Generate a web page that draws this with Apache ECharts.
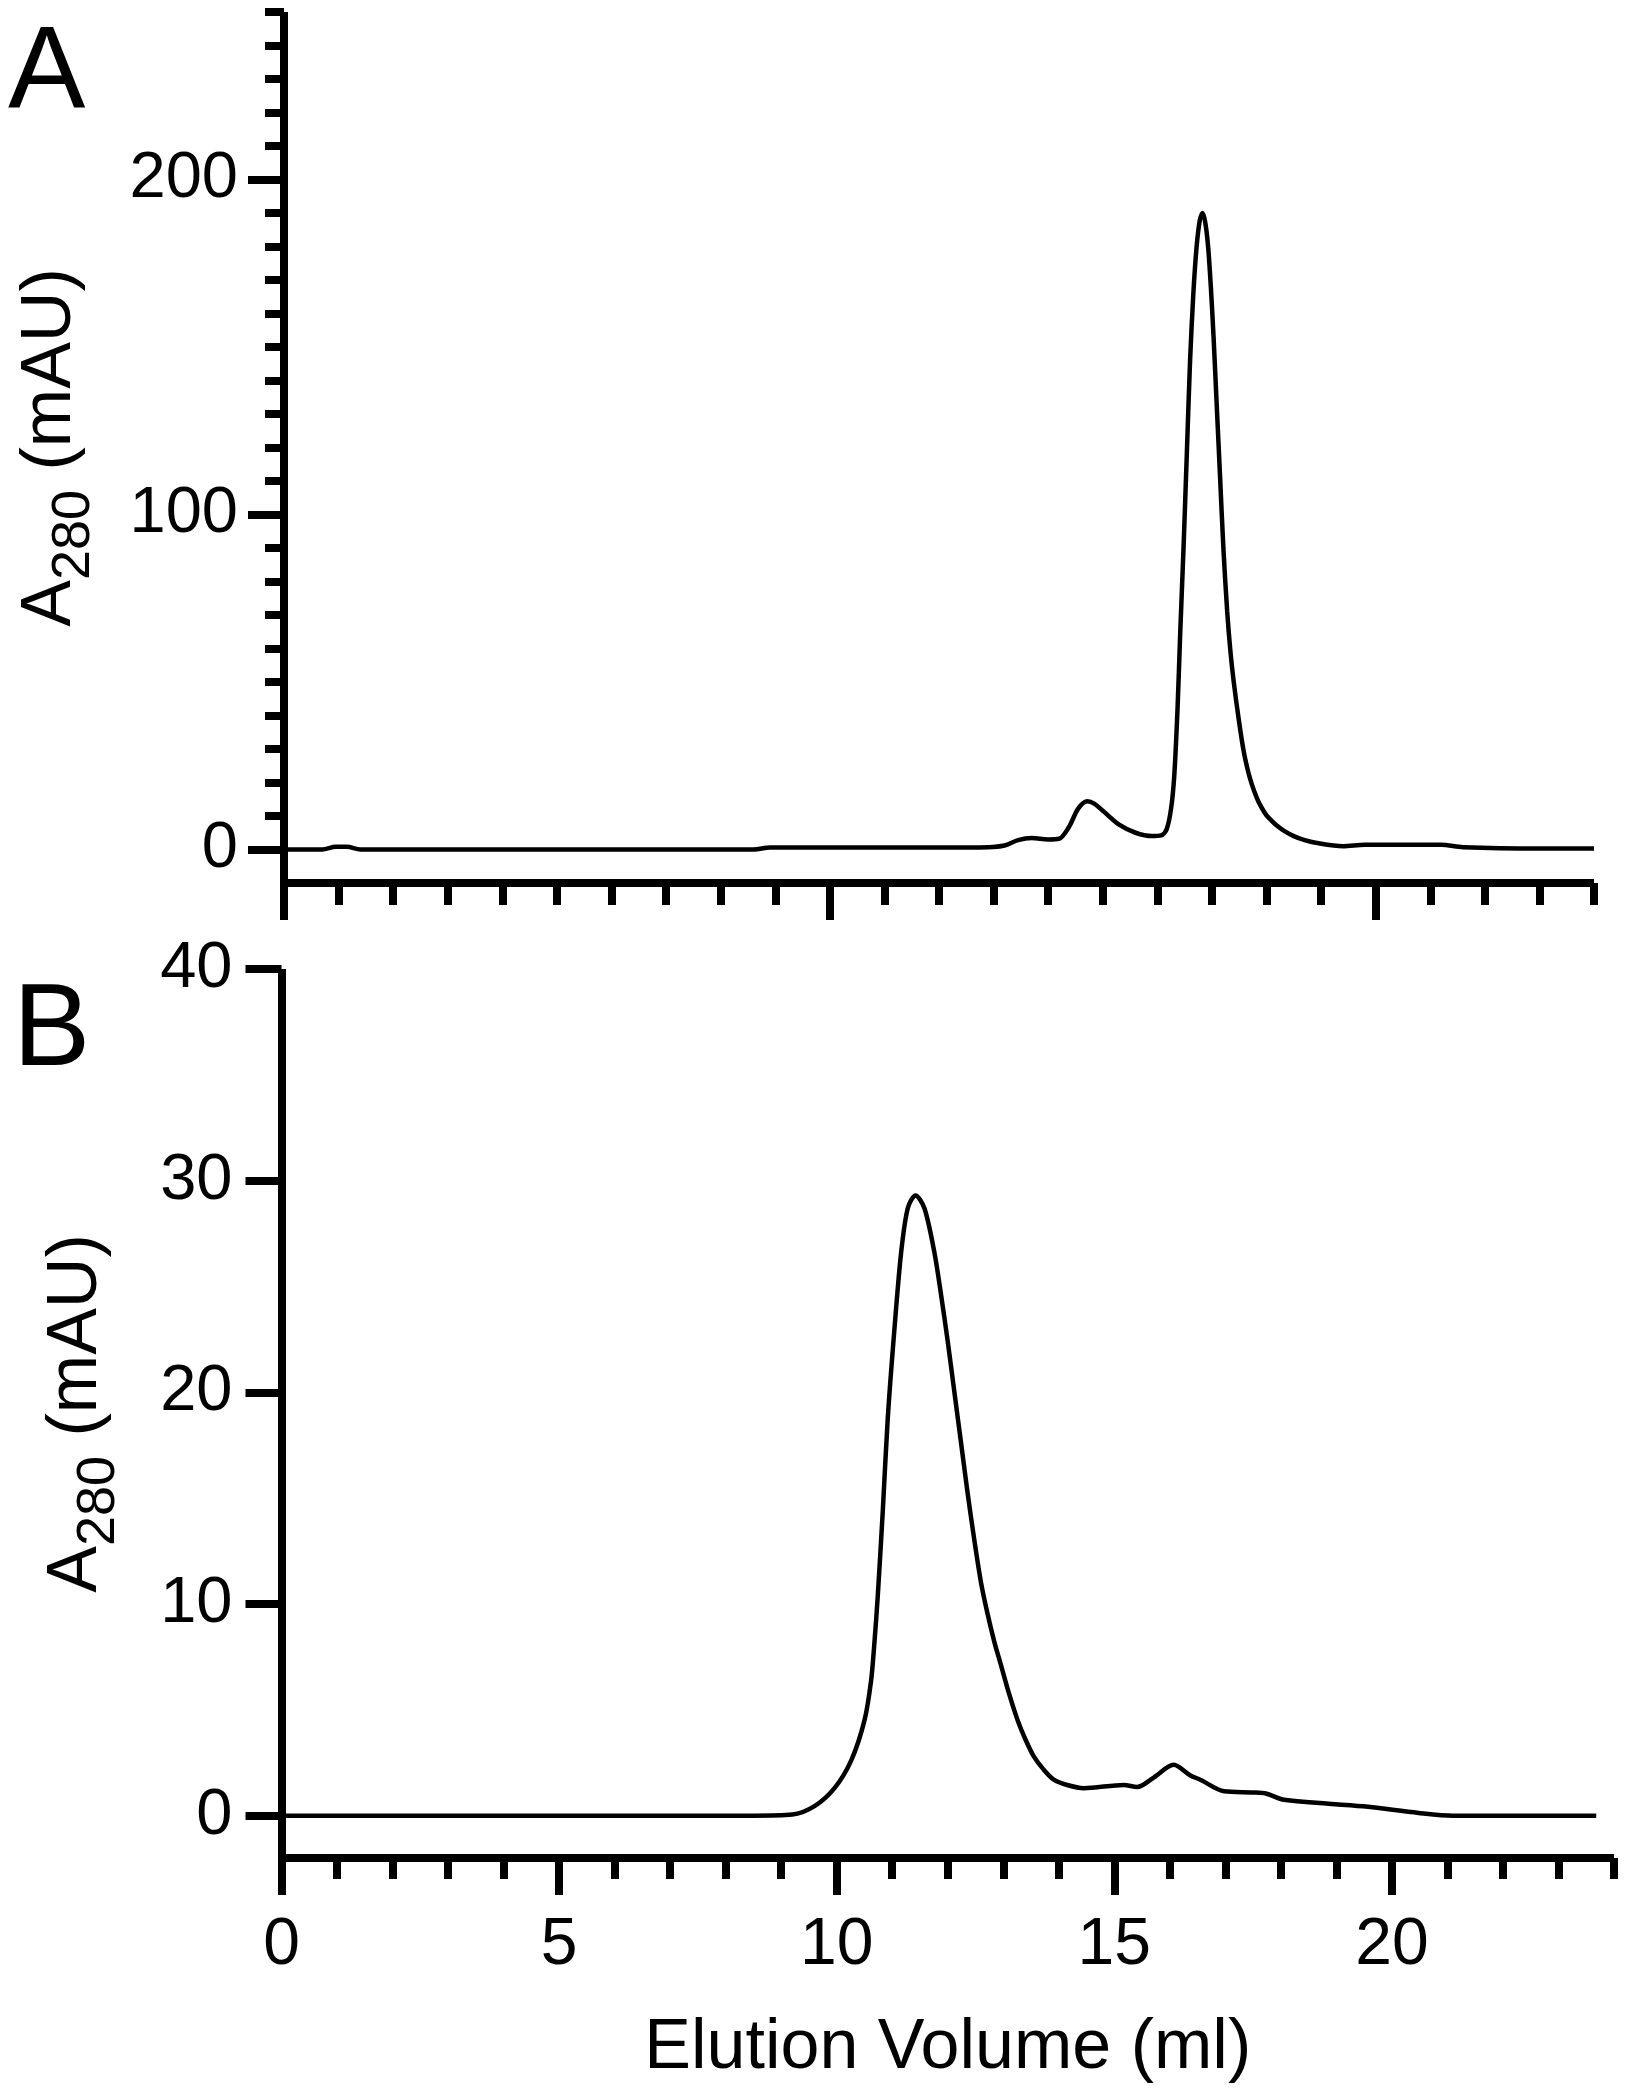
<!DOCTYPE html>
<html>
<head>
<meta charset="utf-8">
<script src="https://cdn.jsdelivr.net/npm/echarts@6/dist/echarts.min.js"></script>
<style>
  html, body { margin: 0; padding: 0; background: #fff; }
  #chart { width: 1625px; height: 2093px; }
</style>
</head>
<body>
<div id="chart"></div>
<script>
// panel A trace (elution volume ml, A280 mAU)
var volA = [0, 0.7, 0.95, 1.15, 1.4, 4, 8.6, 8.9, 12.0, 12.9, 13.2, 13.45, 13.7, 14.0, 14.2, 14.38, 14.55, 14.72, 14.85, 15.02,
  15.3, 15.6, 15.9, 16.07, 16.17, 16.25, 16.31, 16.37, 16.42, 16.48, 16.54, 16.6, 16.66, 16.72, 16.78, 16.83, 16.88, 16.93,
  16.98, 17.03, 17.09, 17.15, 17.21, 17.28, 17.34, 17.4, 17.49, 17.58, 17.66, 17.73, 17.82, 17.9, 18.0, 18.1, 18.2, 18.3,
  18.5, 18.7, 18.9, 19.4, 19.8, 21.2, 21.6, 23.0, 24.0];
var absA = [0, 0, 0.8, 0.8, 0, 0, 0, 0.6, 0.6, 0.7, 1.2, 2.8, 3.4, 3.0, 3.2, 6.7, 12.2, 14.4, 13.6, 11.3,
  7.4, 5.0, 4.0, 4.2, 6.0, 12, 22, 42, 65, 90, 118, 146, 166, 180, 188, 190, 187, 180,
  168, 153, 132, 111, 90, 71, 59, 50, 39, 29.5, 23.5, 19.5, 15.5, 12.8, 10.2, 8.5, 7.0, 5.8,
  4.0, 2.8, 2.0, 1.0, 1.4, 1.4, 0.7, 0.3, 0.3];

// panel B trace
var volB = [0, 8.5, 9.2, 9.6, 9.96, 10.26, 10.5, 10.62, 10.68, 10.74, 10.83, 10.92, 11.04, 11.16, 11.28, 11.42, 11.58, 11.76,
  11.88, 12.0, 12.12, 12.24, 12.36, 12.48, 12.6, 12.72, 12.84, 12.96, 13.1, 13.26, 13.4, 13.55, 13.72, 13.91, 14.15, 14.45,
  15.17, 15.41, 15.71, 16.07, 16.37, 16.55, 16.98, 17.5, 17.73, 18.06, 19.48, 20.48, 21.1, 23.68];
var absB = [0, 0, 0.05, 0.45, 1.3, 2.6, 4.5, 6.4, 8.2, 10.4, 14.4, 18.8, 23.0, 26.6, 28.7, 29.3, 28.7, 26.6,
  24.6, 22.4, 20.0, 17.6, 15.2, 13.0, 11.0, 9.5, 8.2, 7.1, 5.8, 4.5, 3.6, 2.8, 2.2, 1.7, 1.45, 1.3,
  1.45, 1.35, 1.8, 2.4, 1.9, 1.7, 1.15, 1.1, 1.05, 0.75, 0.44, 0.13, 0, 0];

// ticks
var yMajorA = [0, 100, 200];
var yMinorA = [10, 20, 30, 40, 50, 60, 70, 80, 90, 110, 120, 130, 140, 150, 160, 170, 180, 190, 210, 220, 230, 240, 250];
var xMajorA = [0, 10, 20];
var xMinorA = [1, 2, 3, 4, 5, 6, 7, 8, 9, 11, 12, 13, 14, 15, 16, 17, 18, 19, 21, 22, 23, 24];
var yMajorB = [0, 10, 20, 30, 40];
var xMajorB = [0, 5, 10, 15, 20];
var xMinorB = [1, 2, 3, 4, 6, 7, 8, 9, 11, 12, 13, 14, 16, 17, 18, 19, 21, 22, 23, 24];

function pairs(xs, ys) {
  var out = [];
  for (var i = 0; i < xs.length; i++) out.push([xs[i], ys[i]]);
  return out;
}

var FONT = 'Liberation Sans';
var LW = 8;
var yName = '{a|A}{s|280}{a| (mAU)}';
var yNameStyle = {
  fontFamily: FONT, color: '#000',
  rich: {
    a: { fontSize: 70, lineHeight: 70, fontFamily: FONT, color: '#000' },
    s: { fontSize: 54, lineHeight: 54, fontFamily: FONT, color: '#000', padding: [46, 0, 0, 0] }
  }
};

function lineAxis(show) {
  return { show: show, onZero: false, lineStyle: { color: '#000', width: LW, cap: 'butt' } };
}
function ticks(vals, len) {
  return { show: true, inside: false, length: len, customValues: vals, lineStyle: { color: '#000', width: LW } };
}

var myChart = echarts.init(document.getElementById('chart'));
myChart.setOption({
  backgroundColor: '#fff',
  animation: false,
  grid: [
    { left: 284, top: 12, width: 1310, height: 871, outerBoundsMode: 'none', containLabel: false },
    { left: 281.5, top: 969, width: 1332.5, height: 889, outerBoundsMode: 'none', containLabel: false }
  ],
  xAxis: [
    { gridIndex: 0, type: 'value', min: 0, max: 24, position: 'bottom',
      axisLine: lineAxis(true), axisTick: ticks(xMajorA, 37), axisLabel: { show: false }, splitLine: { show: false } },
    { gridIndex: 0, type: 'value', min: 0, max: 24, position: 'bottom',
      axisLine: lineAxis(false), axisTick: ticks(xMinorA, 22), axisLabel: { show: false }, splitLine: { show: false } },
    { gridIndex: 1, type: 'value', min: 0, max: 24, position: 'bottom',
      axisLine: lineAxis(true), axisTick: ticks(xMajorB, 37),
      axisLabel: { customValues: xMajorB, margin: 55, fontSize: 66, lineHeight: 66, fontFamily: FONT, color: '#000' },
      splitLine: { show: false },
      name: 'Elution Volume (ml)', nameLocation: 'middle', nameGap: 156,
      nameTextStyle: { fontSize: 70, lineHeight: 70, fontFamily: FONT, color: '#000' } },
    { gridIndex: 1, type: 'value', min: 0, max: 24, position: 'bottom',
      axisLine: lineAxis(false), axisTick: ticks(xMinorB, 21), axisLabel: { show: false }, splitLine: { show: false } }
  ],
  yAxis: [
    { gridIndex: 0, type: 'value', min: -10, max: 250, position: 'left',
      axisLine: lineAxis(true), axisTick: ticks(yMajorA, 36),
      axisLabel: { customValues: yMajorA, margin: 46, fontSize: 65, fontFamily: FONT, color: '#000' },
      splitLine: { show: false },
      name: yName, nameLocation: 'middle', nameRotate: 90, nameGap: 198, nameTextStyle: yNameStyle },
    { gridIndex: 0, type: 'value', min: -10, max: 250, position: 'left',
      axisLine: lineAxis(false), axisTick: ticks(yMinorA, 19), axisLabel: { show: false }, splitLine: { show: false } },
    { gridIndex: 1, type: 'value', min: -2, max: 40, position: 'left',
      axisLine: lineAxis(true), axisTick: ticks(yMajorB, 36),
      axisLabel: { customValues: yMajorB, margin: 49, fontSize: 65, fontFamily: FONT, color: '#000' },
      splitLine: { show: false },
      name: yName, nameLocation: 'middle', nameRotate: 90, nameGap: 170, nameTextStyle: yNameStyle }
  ],
  graphic: [
    { type: 'text', left: 8, top: 18, style: { text: 'A', font: '116px "Liberation Sans"', fill: '#000' } },
    { type: 'text', left: 13, top: 975, style: { text: 'B', font: '116px "Liberation Sans"', fill: '#000' } }
  ],
  series: [
    { type: 'line', xAxisIndex: 0, yAxisIndex: 0, data: pairs(volA, absA), showSymbol: false,
      smooth: 0.3, lineStyle: { color: '#000', width: 4.5 } },
    { type: 'line', xAxisIndex: 2, yAxisIndex: 2, data: pairs(volB, absB), showSymbol: false,
      smooth: 0.3, lineStyle: { color: '#000', width: 4.5 } }
  ]
});
</script>
</body>
</html>
